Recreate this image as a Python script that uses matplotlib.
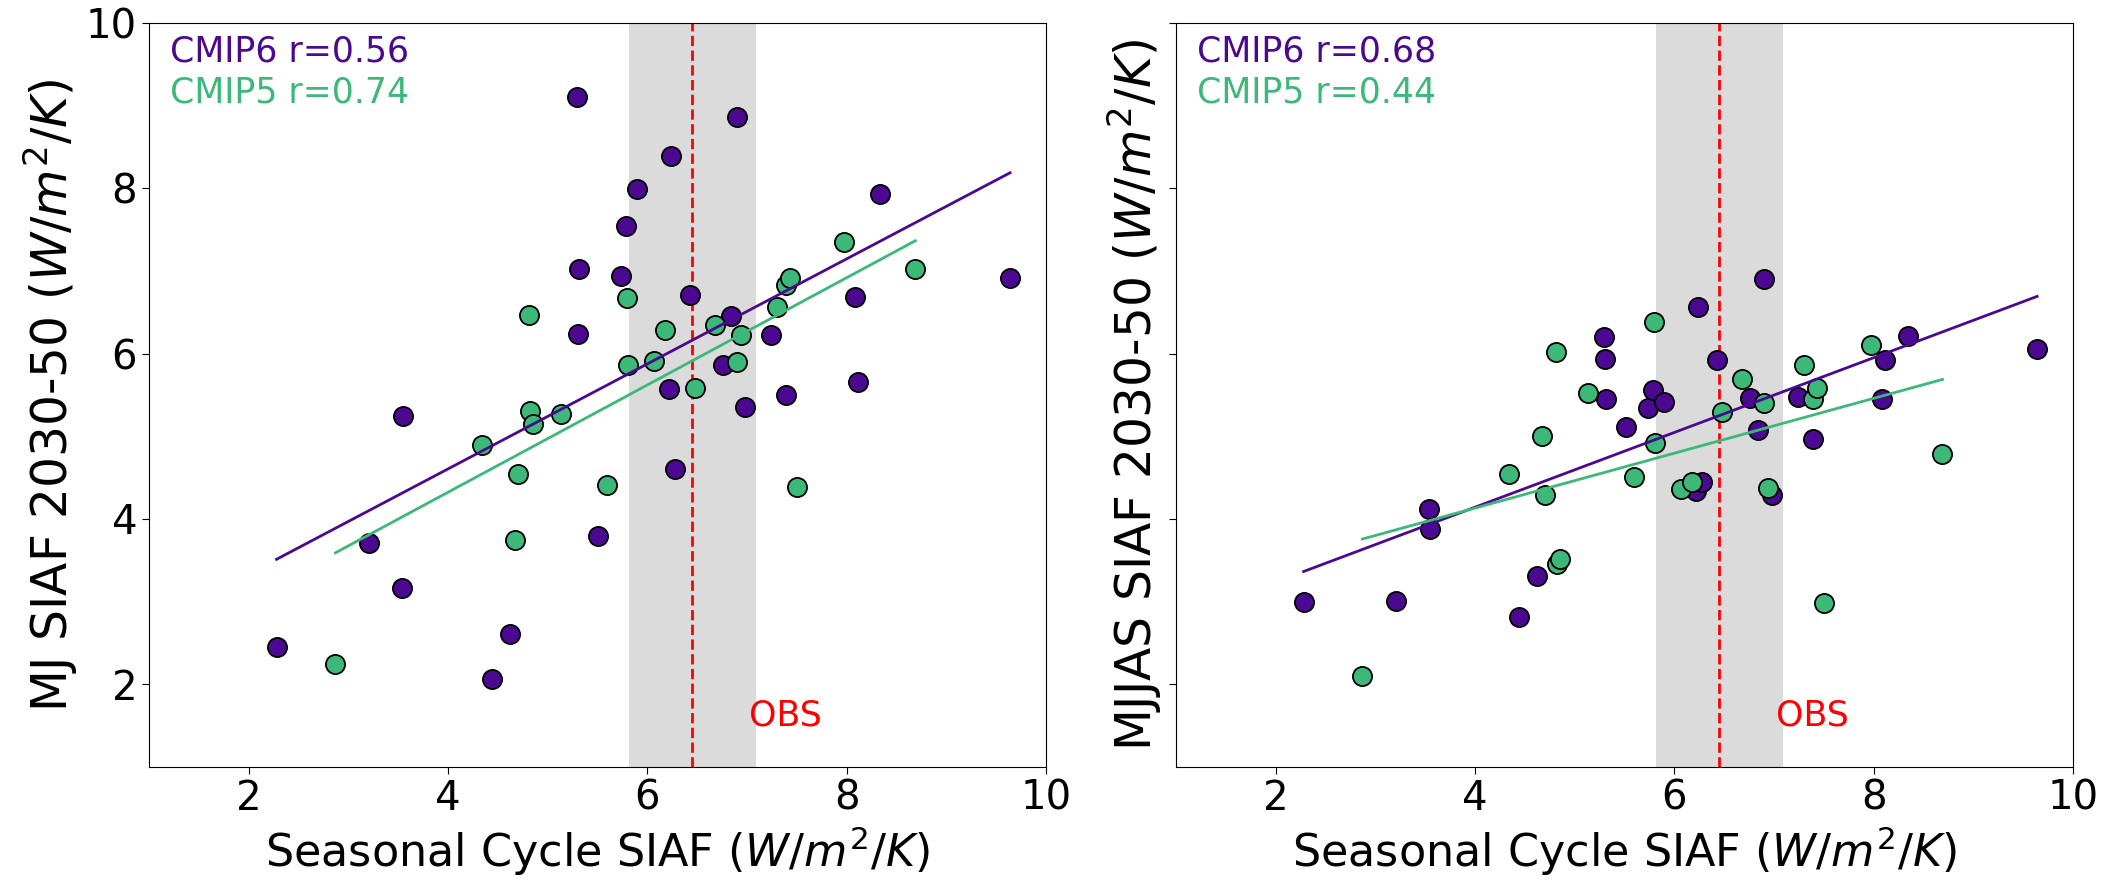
import numpy as np
import matplotlib
matplotlib.use("Agg")
import matplotlib.pyplot as plt

# seasonal cycle SIAF (x), same models in both panels
cmip6_sc = [2.28, 3.21, 3.54, 3.55, 4.44, 4.62, 5.29, 5.31, 5.30, 5.51, 5.74, 5.79, 5.90, 6.24,
            6.22, 6.28, 6.43, 6.76, 6.84, 6.90, 6.98, 7.24, 7.39, 8.08, 8.11, 8.34, 9.64]
cmip5_sc = [2.87, 4.34, 4.67, 4.70, 4.81, 4.82, 4.85, 5.13, 5.60, 5.80, 5.81, 6.07, 6.18, 6.48,
            6.68, 6.90, 6.94, 7.30, 7.39, 7.43, 7.50, 7.97, 8.69]

# MJ SIAF 2030-50
cmip6_mj = [2.45, 3.71, 3.16, 5.25, 2.07, 2.61, 9.10, 7.03, 6.24, 3.80, 6.94, 7.54, 7.99, 8.39,
            5.57, 4.61, 6.71, 5.86, 6.45, 8.86, 5.36, 6.22, 5.50, 6.68, 5.66, 7.93, 6.91]
cmip5_mj = [2.24, 4.89, 3.74, 4.55, 6.47, 5.31, 5.15, 5.27, 4.41, 6.67, 5.86, 5.91, 6.29, 5.58,
            6.35, 5.90, 6.22, 6.57, 6.83, 6.91, 4.39, 7.35, 7.02]

# MJJAS SIAF 2030-50
cmip6_mjjas = [2.99, 3.01, 4.12, 3.88, 2.82, 3.31, 6.20, 5.45, 5.93, 5.11, 5.34, 5.56, 5.42, 6.57,
               4.34, 4.45, 5.92, 5.46, 5.08, 6.90, 4.29, 5.47, 4.97, 5.45, 5.92, 6.21, 6.06]
cmip5_mjjas = [2.10, 4.55, 5.00, 4.29, 6.02, 3.46, 3.51, 5.53, 4.51, 6.38, 4.92, 4.36, 4.45, 5.30,
               5.69, 5.40, 4.37, 5.86, 5.45, 5.58, 2.98, 6.11, 4.79]

r_mj = ["0.56", "0.74"]
r_mjjas = ["0.68", "0.44"]
ylabels = [r"MJ SIAF 2030-50 ($W/m^2/K$)", r"MJJAS SIAF 2030-50 ($W/m^2/K$)"]

obs = 6.45
obs_lo, obs_hi = 5.82, 7.09

c6 = "#4B0890"
c5 = "#3CB878"

fig = plt.figure(figsize=(21.19, 8.88), dpi=100)
ax1 = fig.add_axes([0.0703, 0.1363, 0.4233, 0.8378])
ax2 = fig.add_axes([0.555, 0.1363, 0.4233, 0.8378], sharey=ax1)


def panel(ax, y6, y5, rs, ylab):
    ax.axvspan(obs_lo, obs_hi, color="lightgray", alpha=0.8, lw=0, zorder=0)
    ax.axvline(obs, color="red", ls="--", lw=2, zorder=1)
    ax.scatter(cmip6_sc, y6, s=190, color=c6, edgecolors="black", linewidths=1.3, zorder=2)
    ax.scatter(cmip5_sc, y5, s=190, color=c5, edgecolors="black", linewidths=1.3, zorder=2)
    for xs, ys, c in [(cmip6_sc, y6, c6), (cmip5_sc, y5, c5)]:
        xs = np.array(xs)
        p = np.polyfit(xs, ys, 1)
        xl = np.array([xs.min(), xs.max()])
        ax.plot(xl, np.polyval(p, xl), color=c, lw=2, zorder=3)
    ax.text(0.023, 0.985, "CMIP6 r=" + rs[0], color=c6, fontsize=25, va="top",
            transform=ax.transAxes)
    ax.text(0.023, 0.93, "CMIP5 r=" + rs[1], color=c5, fontsize=25, va="top",
            transform=ax.transAxes)
    ax.text(7.02, 1.5, "OBS", color="red", fontsize=25)
    ax.set_xlim(1, 10)
    ax.set_ylim(1, 10)
    ax.set_xticks([2, 4, 6, 8, 10])
    ax.set_yticks([2, 4, 6, 8, 10])
    ax.tick_params(labelsize=29, length=5)
    ax.set_xlabel(r"Seasonal Cycle SIAF ($W/m^2/K$)", fontsize=32)
    ax.set_ylabel(ylab, fontsize=35)


panel(ax1, cmip6_mj, cmip5_mj, r_mj, ylabels[0])
panel(ax2, cmip6_mjjas, cmip5_mjjas, r_mjjas, ylabels[1])
ax2.tick_params(labelleft=False)

fig.savefig("out.png", dpi=100)
